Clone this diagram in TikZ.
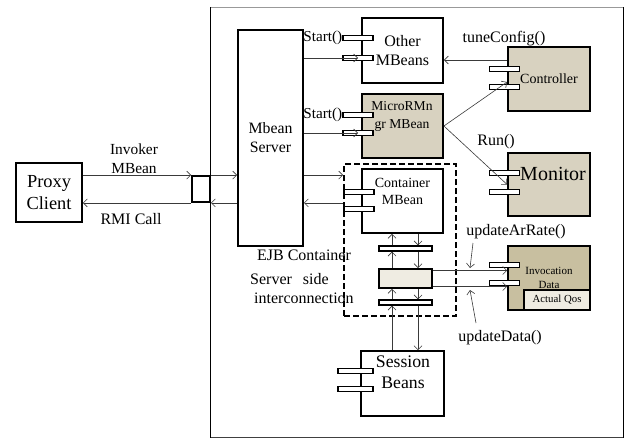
\documentclass[tikz,border=0pt]{standalone}
\usepackage{fontspec}
\setmainfont{Liberation Serif}
\usetikzlibrary{arrows.meta,calc}
\definecolor{tanfill}{HTML}{D8D2C0}
\definecolor{olivefill}{HTML}{C8BFA0}
\definecolor{palefill}{HTML}{EFECE2}
\definecolor{arrc}{HTML}{3A3A3A}
\begin{document}
\begin{tikzpicture}[x=1pt,y=-1pt,
 box/.style={draw=black, line width=1.8pt, inner sep=0pt, align=center},
 portbox/.style={draw=black, fill=white, line width=1.2pt, minimum width=30pt, minimum height=4.5pt, inner sep=0pt},
 bar/.style={draw=black, fill=white, line width=1.3pt, minimum width=53pt, minimum height=5pt, inner sep=0pt},
 arr/.style={draw=arrc, line width=0.6pt, -{Straight Barb[length=4pt,width=8pt]}},
 lbl/.style={inner sep=0pt, align=center, font=\fontsize{16}{19}\selectfont},
]
\useasboundingbox (0,0) rectangle (626,439);
% frame
\draw[black!40, line width=0.8pt] (210,7) -- (624,7);
\draw[black!75, line width=1.2pt] (210,437.5) -- (624,437.5);
\draw[line width=1.6pt] (210.5,7) -- (210.5,438.2);
\draw[line width=1.6pt] (623.5,7) -- (623.5,438.2);

% boxes
\node[box, minimum width=66pt, minimum height=59pt, font=\fontsize{18.4}{22}\selectfont] (px) at (49,192.5) {Proxy\\Client};
\node[box, fill=white, minimum width=18pt, minimum height=26pt] (sq) at (201,189) {};
\node[box, minimum width=65pt, minimum height=216pt, font=\fontsize{15.8}{19}\selectfont] (srv) at (270.5,138) {Mbean\\Server};
\node[box, minimum width=81pt, minimum height=65pt, font=\fontsize{16}{19}\selectfont] (om) at (402.5,50.5) {Other\\MBeans};
\node[box, fill=tanfill, minimum width=81pt, minimum height=64pt] (mrm) at (402.5,126) {};
\node[lbl, font=\fontsize{13.6}{18}\selectfont] (mrmt) at (402,116) {MicroRMn\\gr MBean};
\node[draw=black, line width=1.8pt, dash pattern=on 6pt off 3pt, minimum width=112pt, minimum height=152pt, inner sep=0pt] (ejb) at (400,240) {};
\node[box, fill=white, minimum width=81pt, minimum height=64pt] (cm) at (402.5,201) {};
\node[lbl, font=\fontsize{14}{17}\selectfont] (cmt) at (402.5,191.5) {Container\\MBean};
\node[box, fill=tanfill, minimum width=82pt, minimum height=64pt, font=\fontsize{14}{17}\selectfont] (ctrl) at (549,79) {Controller};
\node[box, fill=tanfill, minimum width=82pt, minimum height=63pt] (mon) at (549,184.5) {};
\node[lbl, font=\fontsize{20}{24}\selectfont] (mont) at (553,174) {Monitor};
\node[box, fill=olivefill, minimum width=82pt, minimum height=64pt, font=\fontsize{11}{14}\selectfont] (inv) at (549,278) {Invocation\\Data};
\node[box, fill=palefill, minimum width=66pt, minimum height=20pt, font=\fontsize{10.8}{13}\selectfont] (aq) at (557,300) {Actual Qos};
\node[box, fill=white, minimum width=83pt, minimum height=65pt] (sb) at (402.5,383.5) {};
\node[lbl, font=\fontsize{17.7}{21}\selectfont] (sbt) at (403,372) {Session\\Beans};
\node[bar] (b1) at (405.5,248.5) {};
\node[box, fill=palefill, minimum width=53pt, minimum height=19pt] (mid) at (405.5,278.5) {};
\node[bar] (b2) at (405.5,302.5) {};

% ports
\node[portbox] (om1) at (358,38) {};
\node[portbox] (om2) at (358,58) {};
\node[portbox] (mr1) at (358,115) {};
\node[portbox] (mr2) at (358,133) {};
\node[portbox] (cm1) at (359,192) {};
\node[portbox] (cm2) at (359,209) {};
\node[portbox] (ct1) at (504.5,69) {};
\node[portbox] (ct2) at (504.5,87) {};
\node[portbox] (mo1) at (504.5,173) {};
\node[portbox] (mo2) at (504.5,192) {};
\node[portbox] (iv1) at (504.5,265) {};
\node[portbox] (iv2) at (504.5,283) {};
\node[portbox, minimum width=35pt] (sb1) at (355.5,371) {};
\node[portbox, minimum width=35pt] (sb2) at (355.5,389) {};

% labels
\node[lbl, font=\fontsize{15.2}{18}\selectfont, anchor=east] (st1) at (om1.west) {Start()};
\node[lbl, font=\fontsize{15.2}{18}\selectfont, anchor=east] (st2) at (mr1.west) {Start()};
\node[lbl] (tune) at (504,39) {tuneConfig()};
\node[lbl] (run) at (496,142) {Run()};
\node[lbl] (uar) at (516,232) {updateArRate()};
\node[lbl] (ud) at (500,338) {updateData()};
\node[lbl, font=\fontsize{15.4}{19}\selectfont] (inm) at (134,158.5) {Invoker\\MBean};
\node[lbl] (rmi) at (131,219) {RMI Call};
\node[lbl] (ejbt) at (304,255) {EJB Container};
\node[lbl, anchor=west] (ss) at (250,279) {Server\hspace{11pt}side};
\node[lbl, anchor=west] (ic) at (254,298) {interconnection};

% helper coordinates
\coordinate (tc) at (0,60);
\coordinate (l1) at (0,270.5);
\coordinate (l2) at (0,286.5);
\coordinate (xL) at (392,0);
\coordinate (xR) at (418,0);
\coordinate (ua1) at (473,243);
\coordinate (ua2) at (470,268);
\coordinate (ud1) at (476,323);
\coordinate (ud2) at (470,290);

% connectors
\draw[arr] (px.east |- sq.north west) -- (sq.north west);
\draw[arr] (sq.south west) -- (px.east |- sq.south west);
\draw[arr] (sq.north east) -- (srv.west |- sq.north east);
\draw[arr] (srv.west |- sq.south east) -- (sq.south east);
\draw[arr] (srv.east |- om2) -- (om2.center);
\draw[arr] (srv.east |- mr2) -- (mr2.center);
\draw[arr] (srv.east |- sq.north) -- (ejb.west |- sq.north);
\draw[arr] (ejb.west |- sq.south) -- (srv.east |- sq.south);
\draw[arr] (ctrl.west |- tc) -- (om.east |- tc);
\draw[arr] (mrm.east) -- ([yshift=-3pt]ctrl.west);
\draw[arr] (mrm.east) -- (mon.west);
\draw[arr] (mid.east |- l1) -- (inv.west |- l1);
\draw[arr] (mid.east |- l2) -- (inv.west |- l2);
\draw[arr] (ua1) -- (ua2);
\draw[arr] (ud1) -- (ud2);
\draw[arr] (sb.north -| xL) -- (b2.south -| xL);
\draw[arr] (b2.north -| xL) -- (mid.south -| xL);
\draw[arr] (mid.north -| xL) -- (b1.south -| xL);
\draw[arr] (b1.north -| xL) -- (cm.south -| xL);
\draw[arr] (cm.south -| xR) -- (b1.north -| xR);
\draw[arr] (b1.south -| xR) -- (mid.north -| xR);
\draw[arr] (mid.south -| xR) -- (b2.north -| xR);
\draw[arr] (b2.south -| xR) -- (sb.north -| xR);
\end{tikzpicture}
\end{document}
